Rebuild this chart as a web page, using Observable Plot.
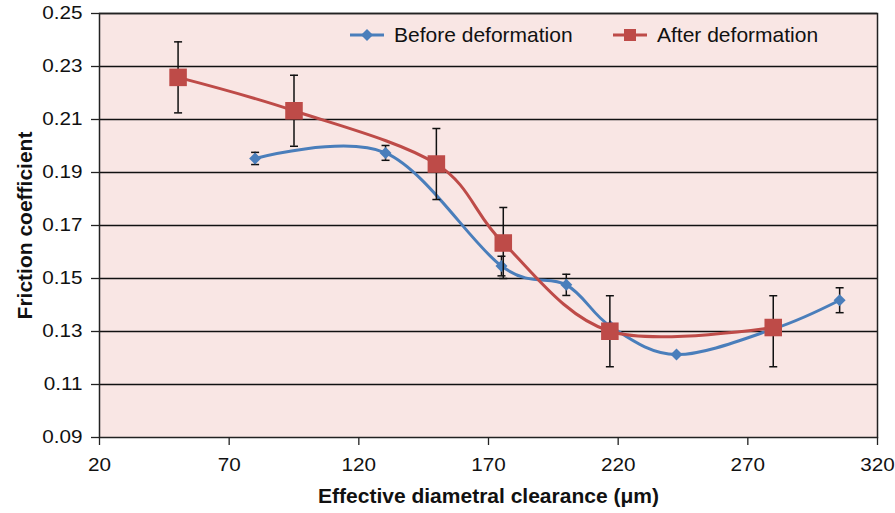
<!DOCTYPE html>
<html>
<head>
<meta charset="utf-8">
<script src="https://cdn.jsdelivr.net/npm/d3@7"></script>
<script src="https://cdn.jsdelivr.net/npm/@observablehq/plot@0.6"></script>
<style>
  body { margin: 0; background: #ffffff; }
  #chart { position: relative; width: 895px; height: 513px; font-family: "Liberation Sans", Arial, Helvetica, sans-serif; color: #111; }
  #chart svg { display: block; }
  g[aria-label="x-axis label"] text, g[aria-label="y-axis label"] text { font-weight: bold; font-size: 21px; }
  .legend { position: absolute; top: 22px; height: 26px; display: flex; align-items: center; font-size: 21px; color: #111; white-space: nowrap; }
  .legend svg { margin-right: 10px; }
</style>
</head>
<body>
<div id="chart"></div>
<script>
// Friction coefficient against effective diametral clearance, before and after deformation
const beforeX    = [80, 130.3, 175, 200, 217, 242.5, 280, 305.4];
const beforeY    = [0.1953, 0.1974, 0.1547, 0.1476, 0.132, 0.1213, 0.131, 0.1418];
const beforeErrUp   = [0.0023, 0.0028, 0.0037, 0.004, null, null, null, 0.0047];
const beforeErrDown = [0.0023, 0.0028, 0.0037, 0.004, null, null, null, 0.0047];

const afterX    = [50.3, 95, 149.9, 175.7, 216.8, 279.8];
const afterY    = [0.2259, 0.2133, 0.1932, 0.1634, 0.1301, 0.1315];
const afterErrUp   = [0.0134, 0.0134, 0.0134, 0.0134, 0.0134, 0.0120];
const afterErrDown = [0.0134, 0.0134, 0.0134, 0.0134, 0.0134, 0.0148];

const xTicks = [20, 70, 120, 170, 220, 270, 320];
const yTicks = [0.09, 0.11, 0.13, 0.15, 0.17, 0.19, 0.21, 0.23, 0.25];

const seriesNames = ["Before deformation", "After deformation"];
const xTitle = "Effective diametral clearance (μm)";
const yTitle = "Friction coefficient";

const blue = "#4A7EBB";
const red = "#BE4B48";
const plotFill = "#F9E6E4";

const before = beforeX.map((x, i) => ({x, y: beforeY[i], up: beforeErrUp[i], down: beforeErrDown[i]}));
const after = afterX.map((x, i) => ({x, y: afterY[i], up: afterErrUp[i], down: afterErrDown[i]}));
const beforeBars = before.filter(d => d.up != null);

// horizontal cap drawn at each end of an error bar
const cap = {
  draw(context, size) {
    const w = Math.sqrt(size / Math.PI);
    context.moveTo(-w, 0);
    context.lineTo(w, 0);
  }
};

function errorMarks(data) {
  return [
    Plot.ruleX(data, {x: "x", y1: d => d.y - d.down, y2: d => d.y + d.up, stroke: "#111", strokeWidth: 1.5}),
    Plot.dot(data, {x: "x", y: d => d.y - d.down, symbol: cap, r: 4, stroke: "#111", strokeWidth: 1.5, fill: "none"}),
    Plot.dot(data, {x: "x", y: d => d.y + d.up, symbol: cap, r: 4, stroke: "#111", strokeWidth: 1.5, fill: "none"})
  ];
}

const chart = Plot.plot({
  width: 895,
  height: 513,
  marginLeft: 99,
  marginRight: 18,
  marginTop: 13,
  marginBottom: 76,
  style: {fontFamily: "'Liberation Sans', Arial, Helvetica, sans-serif", fontSize: "18px", color: "#111", background: "transparent"},
  x: {domain: [20, 320]},
  y: {domain: [0.09, 0.25]},
  marks: [
    Plot.frame({fill: plotFill}),
    Plot.ruleY(yTicks.slice(1), {stroke: "#111", strokeWidth: 1.4}),
    Plot.frame({stroke: "#222", strokeWidth: 1.5}),
    Plot.axisY({ticks: yTicks, tickSize: 8, tickPadding: 9, tickFormat: d => d.toFixed(2), stroke: "#222", strokeWidth: 1.3,
      label: yTitle, labelAnchor: "center", labelArrow: "none", labelOffset: 82}),
    Plot.axisX({ticks: xTicks, tickSize: 8, tickPadding: 13, tickFormat: d => String(d), stroke: "#222", strokeWidth: 1.3,
      label: xTitle, labelAnchor: "center", labelArrow: "none", labelOffset: 65}),
    Plot.line(before, {x: "x", y: "y", stroke: blue, strokeWidth: 3, curve: "cardinal", tension: 0}),
    ...errorMarks(beforeBars),
    Plot.dot(before, {x: "x", y: "y", symbol: "diamond2", r: 5.4, fill: blue, stroke: "none"}),
    Plot.line(after, {x: "x", y: "y", stroke: red, strokeWidth: 3, curve: "cardinal", tension: 0}),
    ...errorMarks(after),
    Plot.dot(after, {x: "x", y: "y", symbol: "square", r: 9.9, fill: red, stroke: "none"})
  ]
});

const root = document.getElementById("chart");
root.appendChild(chart);

// widen the tick labels around their anchor points
d3.select(chart).selectAll('g[aria-label="y-axis tick label"] text, g[aria-label="x-axis tick label"] text')
  .attr("transform", function() { return (this.getAttribute("transform") || "") + " scale(1.15,1)"; });

// legend inside the plot area
function legendItem(name, color, marker, left) {
  const div = document.createElement("div");
  div.className = "legend";
  div.style.left = left + "px";
  const shape = marker === "diamond"
    ? `<path d="M17,1 L23,7 L17,13 L11,7 Z" fill="${color}"/>`
    : `<rect x="11" y="1" width="12" height="12" fill="${color}"/>`;
  div.innerHTML = `<svg width="34" height="14" viewBox="0 0 34 14"><line x1="0" y1="7" x2="34" y2="7" stroke="${color}" stroke-width="3"/>${shape}</svg><span>${name}</span>`;
  root.appendChild(div);
}
legendItem(seriesNames[0], blue, "diamond", 350);
legendItem(seriesNames[1], red, "square", 613);
</script>
</body>
</html>
